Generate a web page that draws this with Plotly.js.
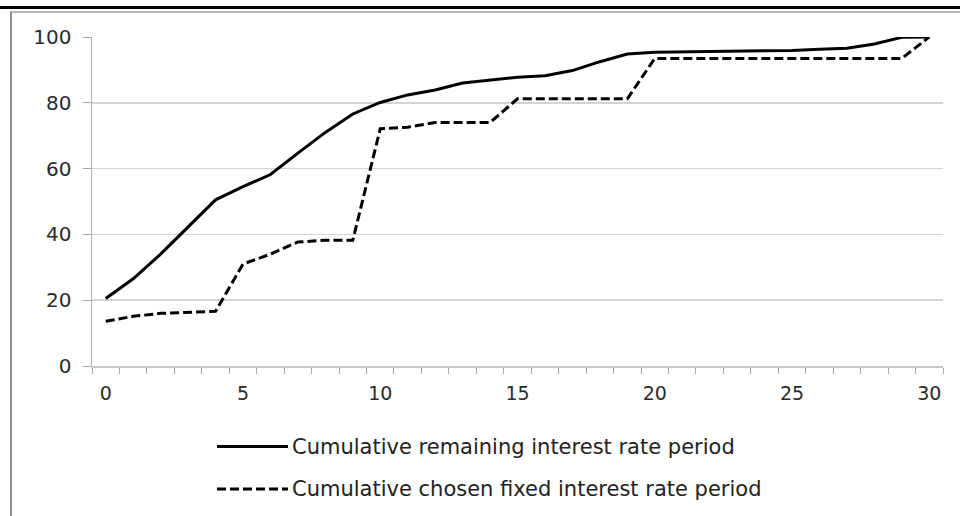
<!DOCTYPE html>
<html>
<head>
<meta charset="utf-8">
<script src="https://cdn.plot.ly/plotly-3.0.1.min.js"></script>
<style>
  html, body { margin: 0; padding: 0; background: #fff; }
  #wrap { position: relative; width: 960px; height: 516px; overflow: hidden; }
  #chart { position: absolute; left: 0; top: 0; width: 960px; height: 516px; }
  .topbar { position: absolute; left: 0; top: 6px; width: 960px; height: 3px; background: #000; z-index: 5; pointer-events: none; }
  .frame { position: absolute; left: 10px; top: 11px; width: 980px; height: 540px; border-left: 2px solid #8f8f8f; border-top: 2px solid #b5b5b5; z-index: 5; pointer-events: none; }
</style>
</head>
<body>
<div id="wrap">
  <div id="chart"></div>
  <div class="topbar"></div>
  <div class="frame"></div>
</div>
<script>
// ---- data ----
const periods = [0,1,2,3,4,5,6,7,8,9,10,11,12,13,14,15,16,17,18,19,20,21,22,23,24,25,26,27,28,29,30];
const remainingPeriod = [20.5,26.5,34,42.3,50.5,54.5,58.2,64.7,71,76.6,80.1,82.4,83.9,86,87,87.8,88.2,89.8,92.5,94.8,95.4,95.5,95.5,95.5,95.6,95.9,96.3,96.6,97.9,99.9,100];
const chosenPeriod = [13.6,15.1,16.0,16.3,16.6,31,34,37.7,38.2,38.2,72.1,72.6,74,74,74,81.2,81.2,81.2,81.2,81.2,93.5,93.5,93.5,93.5,93.5,93.5,93.5,93.5,93.5,93.5,100];
const seriesNames = ["Cumulative remaining interest rate period", "Cumulative chosen fixed interest rate period"];
const xTickVals = [0,5,10,15,20,25,30];
const xTickText = ["0","5","10","15","20","25","30"];
const yTickVals = [0,20,40,60,80,100];

const traces = [
  { x: periods, y: remainingPeriod, name: seriesNames[0], type: "scatter", mode: "lines",
    line: { color: "#000", width: 3 }, xaxis: "x", yaxis: "y", hoverinfo: "skip" },
  { x: periods, y: chosenPeriod, name: seriesNames[1], type: "scatter", mode: "lines",
    line: { color: "#000", width: 3, dash: "9px,4px" }, xaxis: "x", yaxis: "y", hoverinfo: "skip" },
  // invisible trace to carry the labelled category axis
  { x: [periods[0]], y: [null], xaxis: "x2", yaxis: "y", showlegend: false, hoverinfo: "skip", mode: "lines" }
];

// legend positions in paper units (plot area 92..943 x 37..366 px)
const L = 92, R = 943, T = 37, B = 366;
const px = v => (v - L) / (R - L);
const py = v => (B - v) / (B - T);

const layout = {
  width: 960, height: 516,
  margin: { l: L, r: 960 - R, t: T, b: 516 - B },
  paper_bgcolor: "rgba(0,0,0,0)",
  plot_bgcolor: "#fff",
  showlegend: false,
  font: { family: "DejaVu Sans, sans-serif", size: 17, color: "#333" },
  xaxis: {
    range: [-0.5, 30.5], tickmode: "linear", tick0: -0.5, dtick: 1,
    ticks: "outside", ticklen: 6, tickwidth: 1, tickcolor: "#a6a6a6",
    showticklabels: false, showgrid: false, zeroline: false,
    showline: true, linecolor: "#c8c8c8", linewidth: 2, fixedrange: true
  },
  xaxis2: {
    overlaying: "x", anchor: "y", side: "bottom",
    range: [-0.5, 30.5], tickmode: "array", tickvals: xTickVals, ticktext: xTickText,
    ticks: "", showgrid: false, zeroline: false, showline: false,
    ticklabelstandoff: 14,
    tickfont: { family: "DejaVu Sans, sans-serif", size: 19, color: "#2b2b2b" }
  },
  yaxis: {
    range: [0, 100], tickmode: "array", tickvals: yTickVals,
    ticks: "outside", ticklen: 8, tickwidth: 1, tickcolor: "#a6a6a6",
    showline: true, linecolor: "#b0b0b0", linewidth: 1.5,
    showgrid: true, gridcolor: "#d4d4d4", gridwidth: 1.5, zeroline: false,
    ticklabelstandoff: 7,
    tickfont: { family: "DejaVu Sans, sans-serif", size: 20, color: "#2b2b2b" },
    fixedrange: true
  },
  shapes: [
    { type: "line", xref: "paper", yref: "paper", x0: px(217), x1: px(288), y0: py(446.5), y1: py(446.5),
      line: { color: "#000", width: 3 } },
    { type: "line", xref: "paper", yref: "paper", x0: px(217), x1: px(288), y0: py(489), y1: py(489),
      line: { color: "#000", width: 3, dash: "9px,4px" } }
  ],
  annotations: [
    { xref: "paper", yref: "paper", x: px(290), y: py(446.5), xanchor: "left", yanchor: "middle",
      text: seriesNames[0], showarrow: false,
      font: { family: "DejaVu Sans, sans-serif", size: 21, color: "#222" } },
    { xref: "paper", yref: "paper", x: px(290), y: py(489), xanchor: "left", yanchor: "middle",
      text: seriesNames[1], showarrow: false,
      font: { family: "DejaVu Sans, sans-serif", size: 21, color: "#222" } }
  ]
};

Plotly.newPlot("chart", traces, layout, { staticPlot: true, displayModeBar: false });
</script>
</body>
</html>
